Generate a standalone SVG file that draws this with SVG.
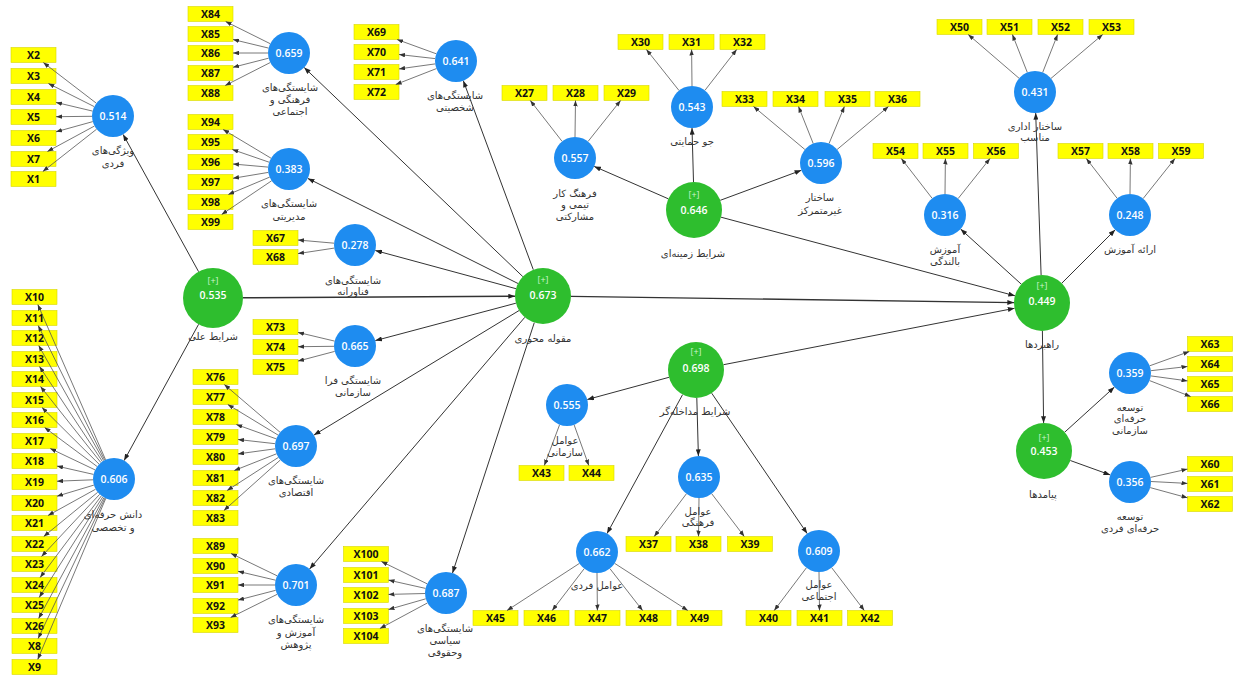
<svg xmlns="http://www.w3.org/2000/svg" width="1235" height="675" viewBox="0 0 1235 675">
<style>
.bx rect{fill:#FFFF00;stroke:#D8D800;stroke-width:0.6}
.bx text{font-family:"Open Sans","Liberation Sans",sans-serif;font-weight:700;font-size:10.5px;fill:#111;text-anchor:middle}
.bl{fill:#1E8CF0}
.gr{fill:#2EBE2E}
.v{font-family:"Open Sans","Liberation Sans",sans-serif;font-weight:600;font-size:10.5px;fill:#fff;text-anchor:middle}
.s{font-family:"Open Sans","Liberation Sans",sans-serif;font-size:9px;fill:#CFF5CF;text-anchor:middle}
.l{font-family:"DejaVu Sans","Noto Sans",sans-serif;font-size:10px;fill:#333;text-anchor:middle}
.ind line{stroke:#555;stroke-width:0.8;marker-end:url(#ai)}
.str line{stroke:#333;stroke-width:1;marker-end:url(#as)}
</style>
<defs>
<marker id="ai" viewBox="0 0 8 6" refX="8" refY="3" markerWidth="6" markerHeight="4.5" orient="auto" markerUnits="userSpaceOnUse"><path d="M0,0 L8,3 L0,6 z" fill="#333"/></marker>
<marker id="as" viewBox="0 0 8 6" refX="8" refY="3" markerWidth="7" markerHeight="5" orient="auto" markerUnits="userSpaceOnUse"><path d="M0,0 L8,3 L0,6 z" fill="#222"/></marker>
</defs>
<rect width="1235" height="675" fill="#fff"/>

<!-- indicator boxes -->
<g id="X2" class="bx"><rect x="11" y="47.5" width="45" height="15"/><text x="33.5" y="59">X2</text></g>
<g id="X3" class="bx"><rect x="11" y="68.5" width="45" height="15"/><text x="33.5" y="80">X3</text></g>
<g id="X4" class="bx"><rect x="11" y="89.5" width="45" height="15"/><text x="33.5" y="101">X4</text></g>
<g id="X5" class="bx"><rect x="11" y="109.5" width="45" height="15"/><text x="33.5" y="121">X5</text></g>
<g id="X6" class="bx"><rect x="11" y="130.5" width="45" height="15"/><text x="33.5" y="142">X6</text></g>
<g id="X7" class="bx"><rect x="11" y="151.5" width="45" height="15"/><text x="33.5" y="163">X7</text></g>
<g id="X1" class="bx"><rect x="11" y="171.5" width="45" height="15"/><text x="33.5" y="183">X1</text></g>

<g id="X84" class="bx"><rect x="188" y="6.5" width="45" height="15"/><text x="210.5" y="18">X84</text></g>
<g id="X85" class="bx"><rect x="188" y="26.5" width="45" height="15"/><text x="210.5" y="38">X85</text></g>
<g id="X86" class="bx"><rect x="188" y="45.5" width="45" height="15"/><text x="210.5" y="57">X86</text></g>
<g id="X87" class="bx"><rect x="188" y="65.5" width="45" height="15"/><text x="210.5" y="77">X87</text></g>
<g id="X88" class="bx"><rect x="188" y="85.5" width="45" height="15"/><text x="210.5" y="97">X88</text></g>

<g id="X94" class="bx"><rect x="188" y="114.5" width="45" height="15"/><text x="210.5" y="126">X94</text></g>
<g id="X95" class="bx"><rect x="188" y="134.5" width="45" height="15"/><text x="210.5" y="146">X95</text></g>
<g id="X96" class="bx"><rect x="188" y="154.5" width="45" height="15"/><text x="210.5" y="166">X96</text></g>
<g id="X97" class="bx"><rect x="188" y="174.5" width="45" height="15"/><text x="210.5" y="186">X97</text></g>
<g id="X98" class="bx"><rect x="188" y="194.5" width="45" height="15"/><text x="210.5" y="206">X98</text></g>
<g id="X99" class="bx"><rect x="188" y="214.5" width="45" height="15"/><text x="210.5" y="226">X99</text></g>

<g id="X69" class="bx"><rect x="354" y="24.5" width="45" height="15"/><text x="376.5" y="36">X69</text></g>
<g id="X70" class="bx"><rect x="354" y="44.5" width="45" height="15"/><text x="376.5" y="56">X70</text></g>
<g id="X71" class="bx"><rect x="354" y="64.5" width="45" height="15"/><text x="376.5" y="76">X71</text></g>
<g id="X72" class="bx"><rect x="354" y="84.5" width="45" height="15"/><text x="376.5" y="96">X72</text></g>

<g id="X27" class="bx"><rect x="502" y="85.5" width="45" height="15"/><text x="524.5" y="97">X27</text></g>
<g id="X28" class="bx"><rect x="553" y="85.5" width="45" height="15"/><text x="575.5" y="97">X28</text></g>
<g id="X29" class="bx"><rect x="604" y="85.5" width="45" height="15"/><text x="626.5" y="97">X29</text></g>

<g id="X30" class="bx"><rect x="618" y="34.5" width="45" height="15"/><text x="640.5" y="46">X30</text></g>
<g id="X31" class="bx"><rect x="669" y="34.5" width="45" height="15"/><text x="691.5" y="46">X31</text></g>
<g id="X32" class="bx"><rect x="720" y="34.5" width="45" height="15"/><text x="742.5" y="46">X32</text></g>

<g id="X33" class="bx"><rect x="722" y="91.5" width="45" height="15"/><text x="744.5" y="103">X33</text></g>
<g id="X34" class="bx"><rect x="773" y="91.5" width="45" height="15"/><text x="795.5" y="103">X34</text></g>
<g id="X35" class="bx"><rect x="825" y="91.5" width="45" height="15"/><text x="847.5" y="103">X35</text></g>
<g id="X36" class="bx"><rect x="875" y="91.5" width="45" height="15"/><text x="897.5" y="103">X36</text></g>

<g id="X50" class="bx"><rect x="937" y="19.5" width="45" height="15"/><text x="959.5" y="31">X50</text></g>
<g id="X51" class="bx"><rect x="987" y="19.5" width="45" height="15"/><text x="1009.5" y="31">X51</text></g>
<g id="X52" class="bx"><rect x="1038" y="19.5" width="45" height="15"/><text x="1060.5" y="31">X52</text></g>
<g id="X53" class="bx"><rect x="1089" y="19.5" width="45" height="15"/><text x="1111.5" y="31">X53</text></g>

<g id="X54" class="bx"><rect x="873" y="143.5" width="45" height="15"/><text x="895.5" y="155">X54</text></g>
<g id="X55" class="bx"><rect x="923" y="143.5" width="45" height="15"/><text x="945.5" y="155">X55</text></g>
<g id="X56" class="bx"><rect x="973.5" y="143.5" width="45" height="15"/><text x="996" y="155">X56</text></g>

<g id="X57" class="bx"><rect x="1058" y="143.5" width="45" height="15"/><text x="1080.5" y="155">X57</text></g>
<g id="X58" class="bx"><rect x="1108" y="143.5" width="45" height="15"/><text x="1130.5" y="155">X58</text></g>
<g id="X59" class="bx"><rect x="1158.5" y="143.5" width="45" height="15"/><text x="1181" y="155">X59</text></g>

<g id="X67" class="bx"><rect x="253" y="230.5" width="45" height="15"/><text x="275.5" y="242">X67</text></g>
<g id="X68" class="bx"><rect x="253" y="249.5" width="45" height="15"/><text x="275.5" y="261">X68</text></g>

<g id="X73" class="bx"><rect x="253" y="319.5" width="45" height="15"/><text x="275.5" y="331">X73</text></g>
<g id="X74" class="bx"><rect x="253" y="339.5" width="45" height="15"/><text x="275.5" y="351">X74</text></g>
<g id="X75" class="bx"><rect x="253" y="359.5" width="45" height="15"/><text x="275.5" y="371">X75</text></g>

<g id="X76" class="bx"><rect x="193" y="369.5" width="45" height="15"/><text x="215.5" y="381">X76</text></g>
<g id="X77" class="bx"><rect x="193" y="389.5" width="45" height="15"/><text x="215.5" y="401">X77</text></g>
<g id="X78" class="bx"><rect x="193" y="409.5" width="45" height="15"/><text x="215.5" y="421">X78</text></g>
<g id="X79" class="bx"><rect x="193" y="429.5" width="45" height="15"/><text x="215.5" y="441">X79</text></g>
<g id="X80" class="bx"><rect x="193" y="449.5" width="45" height="15"/><text x="215.5" y="461">X80</text></g>
<g id="X81" class="bx"><rect x="193" y="470.5" width="45" height="15"/><text x="215.5" y="482">X81</text></g>
<g id="X82" class="bx"><rect x="193" y="490.5" width="45" height="15"/><text x="215.5" y="502">X82</text></g>
<g id="X83" class="bx"><rect x="193" y="510.5" width="45" height="15"/><text x="215.5" y="522">X83</text></g>

<g id="X89" class="bx"><rect x="193" y="538.5" width="45" height="15"/><text x="215.5" y="550">X89</text></g>
<g id="X90" class="bx"><rect x="193" y="558.5" width="45" height="15"/><text x="215.5" y="570">X90</text></g>
<g id="X91" class="bx"><rect x="193" y="577.5" width="45" height="15"/><text x="215.5" y="589">X91</text></g>
<g id="X92" class="bx"><rect x="193" y="598.5" width="45" height="15"/><text x="215.5" y="610">X92</text></g>
<g id="X93" class="bx"><rect x="193" y="617.5" width="45" height="15"/><text x="215.5" y="629">X93</text></g>

<g id="X100" class="bx"><rect x="343.5" y="546.5" width="45" height="15"/><text x="366" y="558">X100</text></g>
<g id="X101" class="bx"><rect x="343.5" y="567.5" width="45" height="15"/><text x="366" y="579">X101</text></g>
<g id="X102" class="bx"><rect x="343.5" y="587.5" width="45" height="15"/><text x="366" y="599">X102</text></g>
<g id="X103" class="bx"><rect x="343.5" y="608.5" width="45" height="15"/><text x="366" y="620">X103</text></g>
<g id="X104" class="bx"><rect x="343.5" y="628.5" width="45" height="15"/><text x="366" y="640">X104</text></g>

<g id="X43" class="bx"><rect x="519" y="465.5" width="45" height="15"/><text x="541.5" y="477">X43</text></g>
<g id="X44" class="bx"><rect x="569" y="465.5" width="45" height="15"/><text x="591.5" y="477">X44</text></g>

<g id="X45" class="bx"><rect x="473" y="610.5" width="45" height="15"/><text x="495.5" y="622">X45</text></g>
<g id="X46" class="bx"><rect x="524" y="610.5" width="45" height="15"/><text x="546.5" y="622">X46</text></g>
<g id="X47" class="bx"><rect x="575" y="610.5" width="45" height="15"/><text x="597.5" y="622">X47</text></g>
<g id="X48" class="bx"><rect x="626" y="610.5" width="45" height="15"/><text x="648.5" y="622">X48</text></g>
<g id="X49" class="bx"><rect x="677" y="610.5" width="45" height="15"/><text x="699.5" y="622">X49</text></g>

<g id="X37" class="bx"><rect x="626" y="536.5" width="45" height="15"/><text x="648.5" y="548">X37</text></g>
<g id="X38" class="bx"><rect x="676" y="536.5" width="45" height="15"/><text x="698.5" y="548">X38</text></g>
<g id="X39" class="bx"><rect x="727.5" y="536.5" width="45" height="15"/><text x="750" y="548">X39</text></g>

<g id="X40" class="bx"><rect x="746" y="610.5" width="45" height="15"/><text x="768.5" y="622">X40</text></g>
<g id="X41" class="bx"><rect x="797" y="610.5" width="45" height="15"/><text x="819.5" y="622">X41</text></g>
<g id="X42" class="bx"><rect x="847.5" y="610.5" width="45" height="15"/><text x="870" y="622">X42</text></g>

<g id="X63" class="bx"><rect x="1187.5" y="336.5" width="45" height="15"/><text x="1210" y="348">X63</text></g>
<g id="X64" class="bx"><rect x="1187.5" y="356.5" width="45" height="15"/><text x="1210" y="368">X64</text></g>
<g id="X65" class="bx"><rect x="1187.5" y="376.5" width="45" height="15"/><text x="1210" y="388">X65</text></g>
<g id="X66" class="bx"><rect x="1187.5" y="396.5" width="45" height="15"/><text x="1210" y="408">X66</text></g>

<g id="X60" class="bx"><rect x="1187.5" y="456.5" width="45" height="15"/><text x="1210" y="468">X60</text></g>
<g id="X61" class="bx"><rect x="1187.5" y="476.5" width="45" height="15"/><text x="1210" y="488">X61</text></g>
<g id="X62" class="bx"><rect x="1187.5" y="496.5" width="45" height="15"/><text x="1210" y="508">X62</text></g>

<g id="X10" class="bx"><rect x="12" y="289.5" width="45" height="15"/><text x="34.5" y="301">X10</text></g>
<g id="X11" class="bx"><rect x="12" y="310.5" width="45" height="15"/><text x="34.5" y="322">X11</text></g>
<g id="X12" class="bx"><rect x="12" y="330.5" width="45" height="15"/><text x="34.5" y="342">X12</text></g>
<g id="X13" class="bx"><rect x="12" y="351.5" width="45" height="15"/><text x="34.5" y="363">X13</text></g>
<g id="X14" class="bx"><rect x="12" y="371.5" width="45" height="15"/><text x="34.5" y="383">X14</text></g>
<g id="X15" class="bx"><rect x="12" y="392.5" width="45" height="15"/><text x="34.5" y="404">X15</text></g>
<g id="X16" class="bx"><rect x="12" y="412.5" width="45" height="15"/><text x="34.5" y="424">X16</text></g>
<g id="X17" class="bx"><rect x="12" y="433.5" width="45" height="15"/><text x="34.5" y="445">X17</text></g>
<g id="X18" class="bx"><rect x="12" y="453.5" width="45" height="15"/><text x="34.5" y="465">X18</text></g>
<g id="X19" class="bx"><rect x="12" y="474.5" width="45" height="15"/><text x="34.5" y="486">X19</text></g>
<g id="X20" class="bx"><rect x="12" y="495.5" width="45" height="15"/><text x="34.5" y="507">X20</text></g>
<g id="X21" class="bx"><rect x="12" y="515.5" width="45" height="15"/><text x="34.5" y="527">X21</text></g>
<g id="X22" class="bx"><rect x="12" y="536.5" width="45" height="15"/><text x="34.5" y="548">X22</text></g>
<g id="X23" class="bx"><rect x="12" y="556.5" width="45" height="15"/><text x="34.5" y="568">X23</text></g>
<g id="X24" class="bx"><rect x="12" y="577.5" width="45" height="15"/><text x="34.5" y="589">X24</text></g>
<g id="X25" class="bx"><rect x="12" y="597.5" width="45" height="15"/><text x="34.5" y="609">X25</text></g>
<g id="X26" class="bx"><rect x="12" y="618.5" width="45" height="15"/><text x="34.5" y="630">X26</text></g>
<g id="X8" class="bx"><rect x="12" y="638.5" width="45" height="15"/><text x="34.5" y="650">X8</text></g>
<g id="X9" class="bx"><rect x="12" y="659.5" width="45" height="15"/><text x="34.5" y="671">X9</text></g>

<!-- connectors -->
<g id="connectors">
<g class="ind">
<line x1="96.3" y1="103.2" x2="43.3" y2="62.5"/>
<line x1="94.2" y1="106.6" x2="48.4" y2="83.5"/>
<line x1="92.6" y1="111.1" x2="56" y2="102.4"/>
<line x1="92" y1="116.3" x2="56" y2="116.7"/>
<line x1="92.8" y1="121.6" x2="56" y2="131.8"/>
<line x1="94.5" y1="126" x2="47.4" y2="151.5"/>
<line x1="96.6" y1="129.2" x2="42.8" y2="171.5"/>

<line x1="270.2" y1="43.7" x2="225.6" y2="21.5"/>
<line x1="268.6" y1="48.1" x2="233" y2="39.5"/>
<line x1="268" y1="53" x2="233" y2="53"/>
<line x1="268.6" y1="58.2" x2="233" y2="67.3"/>
<line x1="270.3" y1="62.5" x2="225.2" y2="85.5"/>

<line x1="271" y1="158.2" x2="223.1" y2="129.5"/>
<line x1="269.1" y1="162.2" x2="232.3" y2="149.5"/>
<line x1="268.1" y1="167.1" x2="233" y2="164"/>
<line x1="268.3" y1="172.4" x2="233" y2="178.3"/>
<line x1="269.7" y1="177.1" x2="228.3" y2="194.5"/>
<line x1="271.6" y1="180.8" x2="221.6" y2="214.5"/>

<line x1="436.3" y1="53.8" x2="397.1" y2="39.5"/>
<line x1="435.1" y1="58.6" x2="399" y2="54.5"/>
<line x1="435.2" y1="63.9" x2="399" y2="68.9"/>
<line x1="436.4" y1="68.6" x2="395.7" y2="84.5"/>

<line x1="562.1" y1="141.4" x2="530.3" y2="100.5"/>
<line x1="575" y1="137" x2="575.5" y2="100.5"/>
<line x1="588" y1="141.5" x2="620.6" y2="100.5"/>

<line x1="679" y1="90.5" x2="646.4" y2="49.5"/>
<line x1="692" y1="86" x2="691.6" y2="49.5"/>
<line x1="704.9" y1="90.4" x2="736.7" y2="49.5"/>

<line x1="804.9" y1="149.5" x2="753.5" y2="106.5"/>
<line x1="813.2" y1="143.5" x2="798.5" y2="106.5"/>
<line x1="829" y1="143.6" x2="844.4" y2="106.5"/>
<line x1="837.1" y1="149.5" x2="888.5" y2="106.5"/>

<line x1="1019.1" y1="78.3" x2="968.2" y2="34.5"/>
<line x1="1027.3" y1="72.4" x2="1012.4" y2="34.5"/>
<line x1="1042.7" y1="72.4" x2="1057.6" y2="34.5"/>
<line x1="1051" y1="78.4" x2="1102.7" y2="34.5"/>

<line x1="932.2" y1="198.4" x2="901.3" y2="158.5"/>
<line x1="945" y1="194" x2="945.4" y2="158.5"/>
<line x1="958.1" y1="198.6" x2="990" y2="158.5"/>

<line x1="1117.2" y1="198.4" x2="1086.3" y2="158.5"/>
<line x1="1130" y1="194" x2="1130.4" y2="158.5"/>
<line x1="1143.1" y1="198.6" x2="1175" y2="158.5"/>

<line x1="334.1" y1="243.2" x2="298" y2="240"/>
<line x1="334.2" y1="248.1" x2="298" y2="253.6"/>

<line x1="334.6" y1="341.1" x2="298" y2="332.4"/>
<line x1="334" y1="346.3" x2="298" y2="346.7"/>
<line x1="334.7" y1="351.4" x2="298" y2="361.1"/>

<line x1="280.1" y1="432.3" x2="224.3" y2="384.5"/>
<line x1="278.1" y1="435.1" x2="227.8" y2="404.5"/>
<line x1="276.3" y1="438.9" x2="236.3" y2="424.5"/>
<line x1="275.1" y1="443.7" x2="238" y2="439.5"/>
<line x1="275.2" y1="448.8" x2="238" y2="453.9"/>
<line x1="276.5" y1="453.8" x2="234.3" y2="470.5"/>
<line x1="278.4" y1="457.4" x2="227.1" y2="490.5"/>
<line x1="280.3" y1="460" x2="223.9" y2="510.5"/>

<line x1="277.1" y1="575.8" x2="231" y2="553.5"/>
<line x1="275.6" y1="580.2" x2="238" y2="571.3"/>
<line x1="275" y1="585" x2="238" y2="585"/>
<line x1="275.7" y1="590.3" x2="238" y2="600.1"/>
<line x1="277.2" y1="594.3" x2="230.6" y2="617.5"/>

<line x1="427.1" y1="583.8" x2="381.4" y2="561.5"/>
<line x1="425.5" y1="588.4" x2="388.5" y2="580.1"/>
<line x1="425" y1="593.5" x2="388.5" y2="594.4"/>
<line x1="425.8" y1="598.8" x2="388.5" y2="609.5"/>
<line x1="427.5" y1="602.9" x2="379.9" y2="628.5"/>

<line x1="559.6" y1="424.7" x2="544.3" y2="465.5"/>
<line x1="574.1" y1="424.8" x2="588.8" y2="465.5"/>

<line x1="579.4" y1="563.4" x2="507" y2="610.5"/>
<line x1="584.2" y1="568.7" x2="552.2" y2="610.5"/>
<line x1="597" y1="573" x2="597.4" y2="610.5"/>
<line x1="609.9" y1="568.6" x2="642.6" y2="610.5"/>
<line x1="614.7" y1="563.4" x2="687.8" y2="610.5"/>

<line x1="686.4" y1="493.8" x2="654.2" y2="536.5"/>
<line x1="699" y1="498" x2="698.5" y2="536.5"/>
<line x1="711.7" y1="493.7" x2="744.3" y2="536.5"/>

<line x1="806.4" y1="567.8" x2="774.2" y2="610.5"/>
<line x1="819" y1="572" x2="819.5" y2="610.5"/>
<line x1="831.7" y1="567.7" x2="864.3" y2="610.5"/>

<line x1="1149.7" y1="365.8" x2="1189.3" y2="351.5"/>
<line x1="1150.9" y1="370.7" x2="1187.5" y2="366.5"/>
<line x1="1150.8" y1="375.9" x2="1187.5" y2="380.9"/>
<line x1="1149.6" y1="380.6" x2="1190.6" y2="396.5"/>

<line x1="1150.5" y1="477.4" x2="1187.5" y2="469.1"/>
<line x1="1151" y1="481.5" x2="1187.5" y2="483.4"/>
<line x1="1150.2" y1="487.6" x2="1187.5" y2="497.8"/>

<line x1="105.6" y1="459.8" x2="37.8" y2="304.5"/>
<line x1="104.7" y1="460.2" x2="38.2" y2="325.5"/>
<line x1="103.7" y1="460.7" x2="38.7" y2="345.5"/>
<line x1="102.4" y1="461.5" x2="39.5" y2="366.5"/>
<line x1="100.9" y1="462.6" x2="40.5" y2="386.5"/>
<line x1="99.1" y1="464.2" x2="42" y2="407.5"/>
<line x1="97.1" y1="466.5" x2="44.6" y2="427.5"/>
<line x1="95.1" y1="469.9" x2="50.2" y2="448.5"/>
<line x1="93.5" y1="474.4" x2="57" y2="466.1"/>
<line x1="93" y1="479.8" x2="57" y2="481.2"/>
<line x1="93.9" y1="485.1" x2="57" y2="496.2"/>
<line x1="95.6" y1="489.2" x2="48" y2="515.5"/>
<line x1="97.7" y1="492.3" x2="43.7" y2="536.5"/>
<line x1="99.7" y1="494.3" x2="41.5" y2="556.5"/>
<line x1="101.4" y1="495.8" x2="40.1" y2="577.5"/>
<line x1="102.8" y1="496.8" x2="39.2" y2="597.5"/>
<line x1="104" y1="497.5" x2="38.6" y2="618.5"/>
<line x1="105" y1="498" x2="38.1" y2="638.5"/>
<line x1="105.8" y1="498.3" x2="37.7" y2="659.5"/>
</g>
<g class="str">
<line x1="198.6" y1="271.7" x2="123.1" y2="134.4"/>
<line x1="198.6" y1="324.3" x2="124.1" y2="460.6"/>
<line x1="243" y1="297.8" x2="515" y2="296.2" style="stroke-width:1.6"/>
<line x1="522.8" y1="276.6" x2="304.2" y2="67.5"/>
<line x1="518" y1="283.5" x2="307.8" y2="178.4"/>
<line x1="533.3" y1="269.7" x2="463.3" y2="80.7"/>
<line x1="516" y1="288.7" x2="375.3" y2="250.5"/>
<line x1="515.9" y1="303.2" x2="375.3" y2="340.6"/>
<line x1="519.1" y1="310.5" x2="313.9" y2="435.1"/>
<line x1="524.8" y1="317.3" x2="309.6" y2="569"/>
<line x1="534.3" y1="322.6" x2="452.5" y2="573"/>
<line x1="668.3" y1="198.8" x2="594.2" y2="166.4"/>
<line x1="693.5" y1="182" x2="692" y2="128"/>
<line x1="720.3" y1="200.3" x2="801.3" y2="170.3"/>
<line x1="721" y1="217.2" x2="1015" y2="295.8"/>
<line x1="571" y1="296.4" x2="1014" y2="302.6" style="stroke-width:1.4"/>
<line x1="723.5" y1="364.7" x2="1014.5" y2="308.3"/>
<line x1="669" y1="377.3" x2="587.3" y2="399.5"/>
<line x1="682.6" y1="394.6" x2="607" y2="533.6"/>
<line x1="696.8" y1="398" x2="698.4" y2="456"/>
<line x1="711.7" y1="393.2" x2="807.2" y2="533.6"/>
<line x1="1021.3" y1="284.2" x2="960.6" y2="229.1"/>
<line x1="1061.8" y1="283.2" x2="1115.2" y2="229.8"/>
<line x1="1041.1" y1="275" x2="1035.7" y2="113"/>
<line x1="1042.4" y1="331" x2="1043.6" y2="423"/>
<line x1="1064.7" y1="432.2" x2="1114.4" y2="387.1"/>
<line x1="1070.3" y1="460.5" x2="1110.2" y2="474.9"/>
</g>
</g>

<!-- latent nodes -->
<g id="n514"><circle class="bl" cx="113" cy="116" r="21"/><text class="v" x="113" y="120">0.514</text><text class="l" x="113" y="154">ویژگی‌های</text><text class="l" x="113" y="167">فردی</text></g>
<g id="n659"><circle class="bl" cx="289" cy="53" r="21"/><text class="v" x="289" y="57">0.659</text><text class="l" x="290" y="91">شایستگی‌های</text><text class="l" x="290" y="103">فرهنگی و</text><text class="l" x="290" y="115">اجتماعی</text></g>
<g id="n383"><circle class="bl" cx="289" cy="169" r="21"/><text class="v" x="289" y="173">0.383</text><text class="l" x="289" y="207">شایستگی‌های</text><text class="l" x="289" y="220">مدیریتی</text></g>
<g id="n641"><circle class="bl" cx="456" cy="61" r="21"/><text class="v" x="456" y="65">0.641</text><text class="l" x="455" y="99">شایستگی‌های</text><text class="l" x="455" y="111">شخصیتی</text></g>
<g id="n557"><circle class="bl" cx="575" cy="158" r="21"/><text class="v" x="575" y="162">0.557</text><text class="l" x="575" y="197">فرهنگ کار</text><text class="l" x="575" y="208">تیمی و</text><text class="l" x="575" y="220">مشارکتی</text></g>
<g id="n543"><circle class="bl" cx="692" cy="107" r="21"/><text class="v" x="692" y="111">0.543</text><text class="l" x="692" y="145">جو حمایتی</text></g>
<g id="n596"><circle class="bl" cx="821" cy="163" r="21"/><text class="v" x="821" y="167">0.596</text><text class="l" x="820" y="201">ساختار</text><text class="l" x="820" y="214">غیرمتمرکز</text></g>
<g id="n431"><circle class="bl" cx="1035" cy="92" r="21"/><text class="v" x="1035" y="96">0.431</text><text class="l" x="1035" y="130">ساختار اداری</text><text class="l" x="1035" y="141">مناسب</text></g>
<g id="n316"><circle class="bl" cx="945" cy="215" r="21"/><text class="v" x="945" y="219">0.316</text><text class="l" x="945" y="253">آموزش</text><text class="l" x="945" y="265">بالندگی</text></g>
<g id="n248"><circle class="bl" cx="1130" cy="215" r="21"/><text class="v" x="1130" y="219">0.248</text><text class="l" x="1130" y="253">ارائه آموزش</text></g>
<g id="n278"><circle class="bl" cx="355" cy="245" r="21"/><text class="v" x="355" y="249">0.278</text><text class="l" x="353" y="284">شایستگی‌های</text><text class="l" x="353" y="295">فناورانه</text></g>
<g id="n665"><circle class="bl" cx="355" cy="346" r="21"/><text class="v" x="355" y="350">0.665</text><text class="l" x="353" y="384">شایستگی فرا</text><text class="l" x="353" y="396">سازمانی</text></g>
<g id="n697"><circle class="bl" cx="296" cy="446" r="21"/><text class="v" x="296" y="450">0.697</text><text class="l" x="296" y="484">شایستگی‌های</text><text class="l" x="296" y="496">اقتصادی</text></g>
<g id="n606"><circle class="bl" cx="114" cy="479" r="21"/><text class="v" x="114" y="483">0.606</text><text class="l" x="113" y="518">دانش حرفه‌ای</text><text class="l" x="113" y="531">و تخصصی</text></g>
<g id="n701"><circle class="bl" cx="296" cy="585" r="21"/><text class="v" x="296" y="589">0.701</text><text class="l" x="296" y="623">شایستگی‌های</text><text class="l" x="296" y="636">آموزش و</text><text class="l" x="296" y="648">پژوهش</text></g>
<g id="n687"><circle class="bl" cx="446" cy="593" r="21"/><text class="v" x="446" y="597">0.687</text><text class="l" x="445" y="632">شایستگی‌های</text><text class="l" x="445" y="644">سیاسی</text><text class="l" x="445" y="656">وحقوقی</text></g>
<g id="n555"><circle class="bl" cx="567" cy="405" r="21"/><text class="v" x="567" y="409">0.555</text><text class="l" x="565" y="444">عوامل</text><text class="l" x="565" y="456">سازمانی</text></g>
<g id="n662"><circle class="bl" cx="597" cy="552" r="21"/><text class="v" x="597" y="556">0.662</text><text class="l" x="597" y="589">عوامل فردی</text></g>
<g id="n635"><circle class="bl" cx="699" cy="477" r="21"/><text class="v" x="699" y="481">0.635</text><text class="l" x="698" y="515">عوامل</text><text class="l" x="698" y="526">فرهنگی</text></g>
<g id="n609"><circle class="bl" cx="819" cy="551" r="21"/><text class="v" x="819" y="555">0.609</text><text class="l" x="819" y="588">عوامل</text><text class="l" x="819" y="600">اجتماعی</text></g>
<g id="n359"><circle class="bl" cx="1130" cy="373" r="21"/><text class="v" x="1130" y="377">0.359</text><text class="l" x="1130" y="411">توسعه</text><text class="l" x="1130" y="422">حرفه‌ای</text><text class="l" x="1130" y="434">سازمانی</text></g>
<g id="n356"><circle class="bl" cx="1130" cy="482" r="21"/><text class="v" x="1130" y="486">0.356</text><text class="l" x="1130" y="520">توسعه</text><text class="l" x="1130" y="532">حرفه‌ای فردی</text></g>

<g id="n535"><circle class="gr" cx="213" cy="298" r="30"/><text class="s" x="213" y="284">[+]</text><text class="v" x="213" y="299">0.535</text><text class="l" x="213" y="340">شرایط علی</text></g>
<g id="n673"><circle class="gr" cx="543" cy="296" r="28"/><text class="s" x="543" y="283">[+]</text><text class="v" x="543" y="299">0.673</text><text class="l" x="543" y="342">مقوله محوری</text></g>
<g id="n646"><circle class="gr" cx="694" cy="210" r="28"/><text class="s" x="694" y="198">[+]</text><text class="v" x="694" y="214">0.646</text><text class="l" x="693" y="257">شرایط زمینه‌ای</text></g>
<g id="n698"><circle class="gr" cx="696" cy="370" r="28"/><text class="s" x="696" y="355">[+]</text><text class="v" x="696" y="372">0.698</text><text class="l" x="695" y="415">شرایط مداخله‌گر</text></g>
<g id="n449"><circle class="gr" cx="1042" cy="303" r="28"/><text class="s" x="1042" y="289">[+]</text><text class="v" x="1042" y="305">0.449</text><text class="l" x="1042" y="348">راهبردها</text></g>
<g id="n453"><circle class="gr" cx="1044" cy="451" r="28"/><text class="s" x="1044" y="441">[+]</text><text class="v" x="1044" y="455">0.453</text><text class="l" x="1043" y="498">پیامدها</text></g>
</svg>
